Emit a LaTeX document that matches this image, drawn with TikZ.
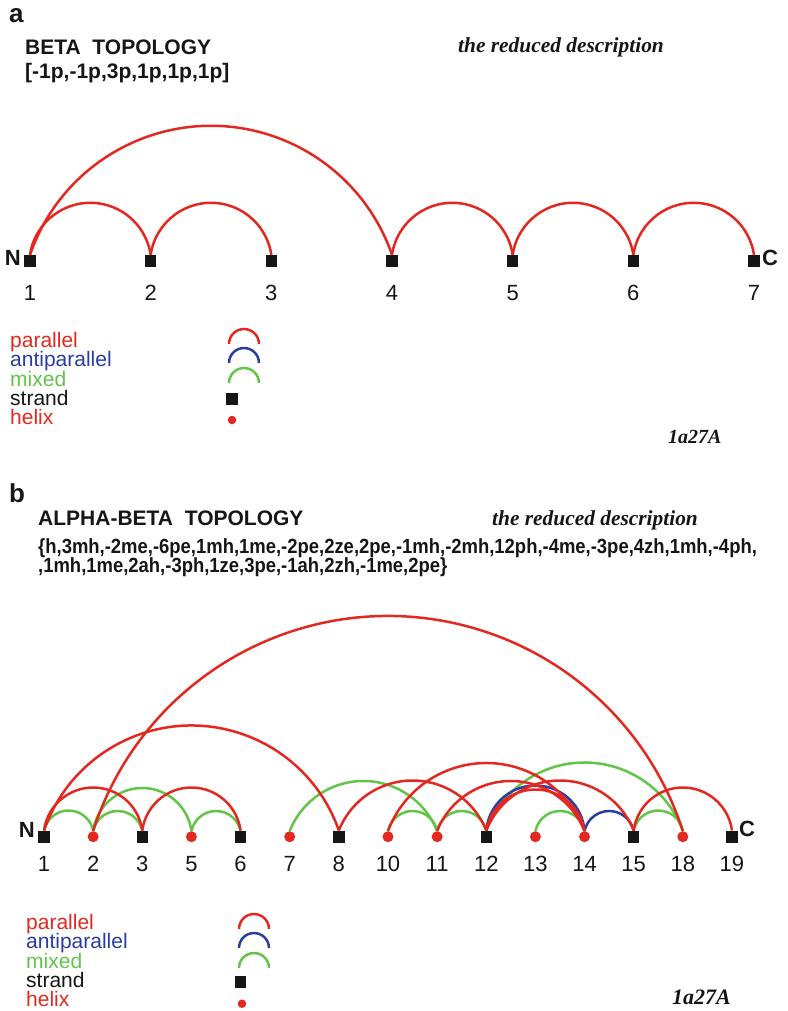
\documentclass[tikz,border=0pt]{standalone}
\usepackage{fontspec}
\setmainfont{Liberation Sans}
\newfontfamily\tnr{Liberation Serif}
\newfontfamily\narrowsans[FakeStretch=0.9]{Liberation Sans}
\usetikzlibrary{calc}

\definecolor{parred}{RGB}{226,40,32}
\definecolor{mixgreen}{RGB}{98,196,72}
\definecolor{antiblue}{RGB}{42,62,160}
\definecolor{ink}{RGB}{22,22,22}

\tikzset{
  strand/.style={rectangle, fill=ink, minimum width=11.5pt, minimum height=12pt, inner sep=0pt},
  helix/.style={circle, fill=parred, minimum size=11pt, inner sep=0pt},
  helixkey/.style={circle, fill=parred, minimum size=8.5pt, inner sep=0pt},
  link/.style={line width=2.5pt},
  par/.style={link, draw=parred},
  anti/.style={link, draw=antiblue},
  mix/.style={link, draw=mixgreen},
  num/.style={anchor=base, inner sep=0pt, text=ink, font=\fontsize{22}{22}\selectfont},
  term/.style={inner sep=0pt, text=ink, font=\fontsize{22}{22}\selectfont\bfseries},
  panel/.style={anchor=base west, inner sep=0pt, text=ink, font=\fontsize{26}{26}\selectfont\bfseries},
  title/.style={anchor=base west, inner sep=0pt, text=ink, font=\fontsize{21}{21}\selectfont\bfseries},
  code/.style={anchor=base west, inner sep=0pt, text=ink, font=\fontsize{20.5}{20.5}\selectfont\narrowsans\bfseries},
  reduced/.style={anchor=base west, inner sep=0pt, text=ink, font=\fontsize{21.4}{21.4}\selectfont\tnr\bfseries\itshape},
  pdb/.style={anchor=base west, inner sep=0pt, text=ink, font=\fontsize{20}{20}\selectfont\tnr\bfseries\itshape},
  key/.style={anchor=base west, inner sep=0pt, font=\fontsize{21}{21}\selectfont},
}

% arc from node #2 to node #3 of height #4, style #1
\newcommand\linkarc[4]{%
  \draw[#1] let \p1=(#2.north), \p2=(#3.north),
    \n1={(\x2-\x1)/2}, \n2={#4},
    \n3={(\n1*(\n1/\n2)+\n2)/2},
    \n4={asin((\n3-\n2)/\n3)}
  in (\x1,\y1) arc[start angle=180-\n4, end angle=\n4, radius=\n3*1pt];}

\begin{document}
\begin{tikzpicture}[x=1pt,y=-1pt]
\useasboundingbox (0,0) rectangle (787,1011);

% ---------------- panel a ----------------
\node[panel] (pa) at (9,23) {a};
\node[title] (ta) at (25,55) {BETA\ \ TOPOLOGY};
\node[title] (ca) at (25,79) {[-1p,-1p,3p,1p,1p,1p]};
\node[reduced] (ra) at (458,53) {the reduced description};

\foreach \i [count=\k from 0] in {1,...,7} {
  \node[strand] (a\i) at ({30+120.67*\k},261) {};
  \node[num] (al\i) at ({30+120.67*\k},300) {\i};
}
\node[term, anchor=base east] (an) at ($(a1.west)+(-3,4)$) {N};
\node[term, anchor=base west] (ac) at ($(a7.east)+(2,4)$) {C};

\linkarc{par}{a1}{a2}{52}
\linkarc{par}{a2}{a3}{52}
\linkarc{par}{a1}{a4}{129}
\linkarc{par}{a4}{a5}{52}
\linkarc{par}{a5}{a6}{52}
\linkarc{par}{a6}{a7}{52}

% legend a
\node[key, text=parred]   (ka1) at (10,347) {parallel};
\node[key, text=antiblue] (ka2) at (10,366) {antiparallel};
\node[key, text=mixgreen] (ka3) at (10,386) {mixed};
\node[key, text=ink]      (ka4) at (10,405) {strand};
\node[key, text=parred]   (ka5) at (10,424) {helix};
\draw[par]  (229,344) arc[start angle=180, end angle=0, radius=15pt];
\draw[anti] (229,363) arc[start angle=180, end angle=0, radius=15pt];
\draw[mix]  (229,383) arc[start angle=180, end angle=0, radius=15pt];
\node[strand]   (sa) at (232,399) {};
\node[helixkey] (ha) at (232,420) {};
\node[pdb] (ida) at (668,443) {1a27A};

% ---------------- panel b ----------------
\node[panel] (pb) at (9,502) {b};
\node[title] (tb) at (38,525) {ALPHA-BETA\ \ TOPOLOGY};
\node[reduced] (rb) at (492,525) {the reduced description};
\node[code] (cb1) at (38,553) {\{h,3mh,-2me,-6pe,1mh,1me,-2pe,2ze,2pe,-1mh,-2mh,12ph,-4me,-3pe,4zh,1mh,-4ph,};
\node[code] (cb2) at (38,572) {,1mh,1me,2ah,-3ph,1ze,3pe,-1ah,2zh,-1me,2pe\}};

\foreach \lab/\kind [count=\k from 0] in
  {1/strand,2/helix,3/strand,5/helix,6/strand,7/helix,8/strand,10/helix,
   11/helix,12/strand,13/helix,14/helix,15/strand,18/helix,19/strand} {
  \node[\kind] (b\lab) at ({44+49.14*\k},836.7) {};
  \node[num] (bl\lab) at ({44+49.14*\k},871.7) {\lab};
}
\node[term, anchor=base east] (bn) at ($(b1.west)+(-3,1)$) {N};
\node[term, anchor=base west] (bc) at ($(b19.east)+(1,0)$) {C};

% mixed links
\linkarc{mix}{b1}{b2}{20}
\linkarc{mix}{b2}{b3}{20}
\linkarc{mix}{b5}{b6}{20}
\linkarc{mix}{b10}{b11}{20}
\linkarc{mix}{b11}{b12}{20}
\linkarc{mix}{b13}{b14}{20}
\linkarc{mix}{b15}{b18}{20}
\linkarc{mix}{b2}{b5}{43}
\linkarc{mix}{b7}{b11}{50}
\linkarc{mix}{b12}{b18}{68}
% antiparallel links
\linkarc{anti}{b12}{b14}{45}
\linkarc{anti}{b14}{b15}{20}
% parallel links
\linkarc{par}{b1}{b3}{43}
\linkarc{par}{b3}{b6}{43}
\linkarc{par}{b15}{b19}{43}
\linkarc{par}{b12}{b14}{41}
\linkarc{par}{b8}{b12}{50}
\linkarc{par}{b11}{b14}{50}
\linkarc{par}{b12}{b15}{50}
\linkarc{par}{b10}{b14}{68}
\linkarc{par}{b1}{b8}{105}
\linkarc{par}{b2}{b18}{215}

% legend b
\node[key, text=parred]   (kb1) at (26,929) {parallel};
\node[key, text=antiblue] (kb2) at (26,948) {antiparallel};
\node[key, text=mixgreen] (kb3) at (26,968) {mixed};
\node[key, text=ink]      (kb4) at (26,987) {strand};
\node[key, text=parred]   (kb5) at (26,1006) {helix};
\draw[par]  (239,929) arc[start angle=180, end angle=0, radius=15pt];
\draw[anti] (239,948) arc[start angle=180, end angle=0, radius=15pt];
\draw[mix]  (239,968) arc[start angle=180, end angle=0, radius=15pt];
\node[strand]   (sb) at (240.5,982) {};
\node[helixkey] (hb) at (242,1003.7) {};
\node[pdb, font=\fontsize{22}{22}\selectfont\tnr\bfseries\itshape] (idb) at (672,1004) {1a27A};
\end{tikzpicture}
\end{document}
